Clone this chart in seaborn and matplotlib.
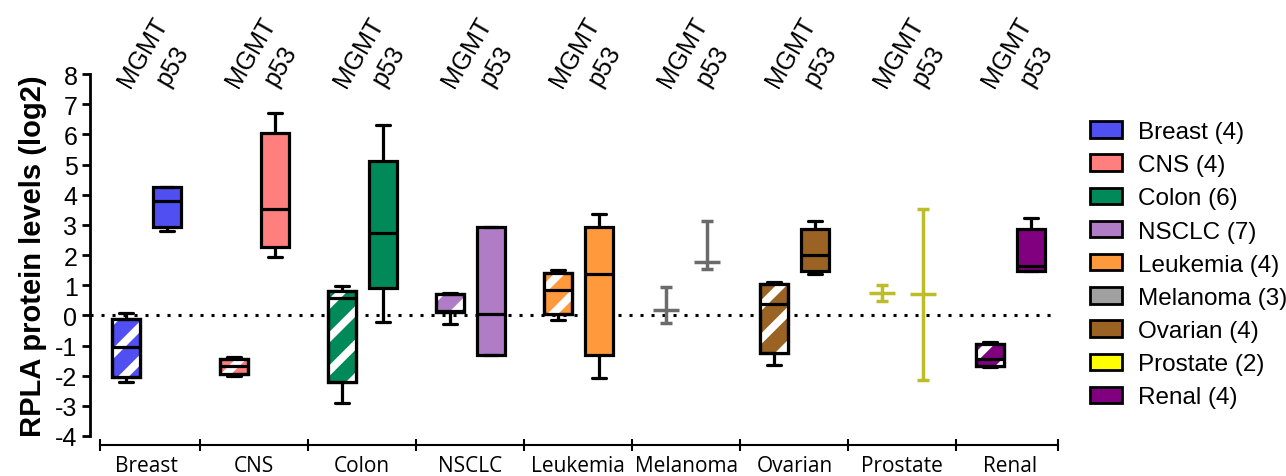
import numpy as np
import pandas as pd
import matplotlib
matplotlib.use("Agg")
import matplotlib.pyplot as plt
from matplotlib.patches import PathPatch, Patch
import seaborn as sns

# cancer groups (number of cell lines in legend)
cancers = ["Breast", "CNS", "Colon", "NSCLC", "Leukemia", "Melanoma", "Ovarian", "Prostate", "Renal"]
n_lines = [4, 4, 6, 7, 4, 3, 4, 2, 4]
markers = ["MGMT", "p53"]

fill_colors = ["#5050F2", "#FF7F7F", "#008A5A", "#B07CC6", "#FF9A3C",
               "#A0A0A0", "#9A6323", "#FFFF00", "#800080"]
line_colors = {"Melanoma": "#6B6B6B", "Prostate": "#BDBD2A"}

# five-number summaries (nan = no box, range only)
nan = np.nan
mgmt_lo  = [-2.20, -2.00, -2.92, -0.30, -0.17, -0.24, -1.65, 0.47, -1.72]
mgmt_q1  = [-2.05, -1.93, -2.22,  0.12,  0.03,  nan,  -1.24, nan,  -1.68]
mgmt_med = [-1.05, -1.68,  0.56,  0.15,  0.83,  0.17,  0.37, 0.73, -1.44]
mgmt_q3  = [-0.11, -1.46,  0.81,  0.70,  1.40,  nan,   1.05, nan,  -0.96]
mgmt_hi  = [ 0.07, -1.37,  0.97,  0.75,  1.50,  0.95,  1.12, 1.00, -0.90]

p53_lo  = [2.80, 1.95, -0.22, -1.33, -2.07, 1.53, 1.36, -2.13, 1.47]
p53_q1  = [2.93, 2.25,  0.90, -1.33, -1.33, nan,  1.47, nan,   1.47]
p53_med = [3.80, 3.54,  2.72,  0.03,  1.36, 1.77, 2.00, 0.70,  1.64]
p53_q3  = [4.24, 6.04,  5.11,  2.93,  2.93, nan,  2.86, nan,   2.86]
p53_hi  = [4.24, 6.70,  6.31,  2.93,  3.36, 3.13, 3.13, 3.54,  3.22]

stats = {
    "MGMT": [mgmt_lo, mgmt_q1, mgmt_med, mgmt_q3, mgmt_hi],
    "p53": [p53_lo, p53_q1, p53_med, p53_q3, p53_hi],
}

# long table: for a 5-point sample the 0/25/50/75/100 percentiles are the points themselves
rows = []
for m in markers:
    for i, c in enumerate(cancers):
        five = [s[i] for s in stats[m]]
        if np.isnan(five[1]):
            continue
        for v in five:
            rows.append({"cancer": c, "marker": m, "value": v})
df = pd.DataFrame(rows)

sns.set_style("ticks")
plt.rcParams["font.family"] = ["Liberation Sans", "DejaVu Sans"]
plt.rcParams["hatch.linewidth"] = 5.5
plt.rcParams["axes.unicode_minus"] = False
for k in ["text.color", "axes.labelcolor", "xtick.color", "ytick.color", "axes.edgecolor"]:
    plt.rcParams[k] = "black"

fig = plt.figure(figsize=(12.86, 4.77), dpi=100)
ax = fig.add_axes([90 / 1286, 40 / 477, 968 / 1286, 362 / 477])

width, gap = 0.76, 0.316
offset = width / 4
lw_box = 2.3

for i, c in enumerate(cancers):
    sub = df[df["cancer"] == c]
    if sub.empty:
        continue
    n0 = len(ax.patches)
    sns.boxplot(data=sub, x="cancer", y="value", hue="marker", order=cancers,
                hue_order=markers, palette={m: fill_colors[i] for m in markers},
                saturation=1, width=width, gap=gap, whis=(0, 100), showfliers=False,
                linecolor="black", linewidth=lw_box, legend=False, ax=ax)
    for p in ax.patches[n0:]:
        xs = p.get_path().vertices[:, 0]
        if xs.mean() < i:  # MGMT box -> white stripes
            ax.add_patch(PathPatch(p.get_path(), transform=p.get_transform(),
                                   facecolor="none", edgecolor="white", hatch="/",
                                   lw=0, zorder=2.1))
            ax.add_patch(PathPatch(p.get_path(), transform=p.get_transform(),
                                   facecolor="none", edgecolor="black", lw=lw_box,
                                   zorder=3))

for ln in ax.lines:
    ln.set_zorder(3)

# range-only groups (too few lines for a box)
for i, c in enumerate(cancers):
    for j, m in enumerate(markers):
        lo, q1, med, q3, hi = [s[i] for s in stats[m]]
        if not np.isnan(q1):
            continue
        x = i + (-offset if j == 0 else offset)
        col = line_colors[c]
        ax.errorbar(x, med, yerr=[[med - lo], [hi - med]], fmt="none", ecolor=col,
                    elinewidth=2.5, capsize=4.5, capthick=2.5, zorder=3)
        ax.hlines(med, x - 0.12, x + 0.12, color=col, lw=2.5, zorder=3)

ax.axhline(0, color="black", lw=2.2, ls=(0, (1, 2.6)), zorder=1)

ax.set_xlim(-0.52, 8.44)
ax.set_ylim(-4, 8)
ax.set_yticks(range(-4, 9))
ax.tick_params(axis="y", labelsize=18, length=6, width=2, direction="out", pad=3)
ax.set_ylabel("RPLA protein levels (log2)", fontsize=21, fontweight="bold", labelpad=6)
ax.spines["left"].set_linewidth(2)
ax.spines["left"].set_bounds(-4, 8)
for s in ["top", "right"]:
    ax.spines[s].set_visible(False)

# category axis below the plot
ax.spines["bottom"].set_position(("outward", 6.5))
ax.spines["bottom"].set_bounds(-0.43, 8.44)
ax.spines["bottom"].set_linewidth(1.5)
dividers = [-0.43] + [i + 0.5 for i in range(len(cancers) - 1)] + [8.44]
ax.set_xticks(dividers)
ax.set_xticklabels([])
ax.tick_params(axis="x", which="major", direction="inout", length=9, width=1.5)
ax.set_xticks(range(len(cancers)), minor=True)
ax.set_xticklabels(cancers, minor=True, fontsize=15, family="Open Sans")
ax.tick_params(axis="x", which="minor", length=0, pad=7)
ax.set_xlabel("")

# marker names above each pair
for i in range(len(cancers)):
    ax.text(i - offset + 0.04, 7.52, "MGMT", rotation=60, rotation_mode="anchor",
            ha="left", va="baseline", fontsize=18)
    ax.text(i + offset + 0.015, 7.58, "p53", rotation=60, rotation_mode="anchor",
            ha="left", va="baseline", fontsize=18)

handles = [Patch(facecolor=fill_colors[i], edgecolor="black", lw=2,
                 label=f"{c} ({n_lines[i]})") for i, c in enumerate(cancers)]
fig.legend(handles=handles, loc="upper left", bbox_to_anchor=(1090 / 1286, 1 - 122 / 477),
           frameon=False, fontsize=17.5, handlelength=1.32, handleheight=0.66,
           handletextpad=0.66, labelspacing=0.46, borderpad=0, borderaxespad=0)

fig.savefig("out.png", dpi=100)
